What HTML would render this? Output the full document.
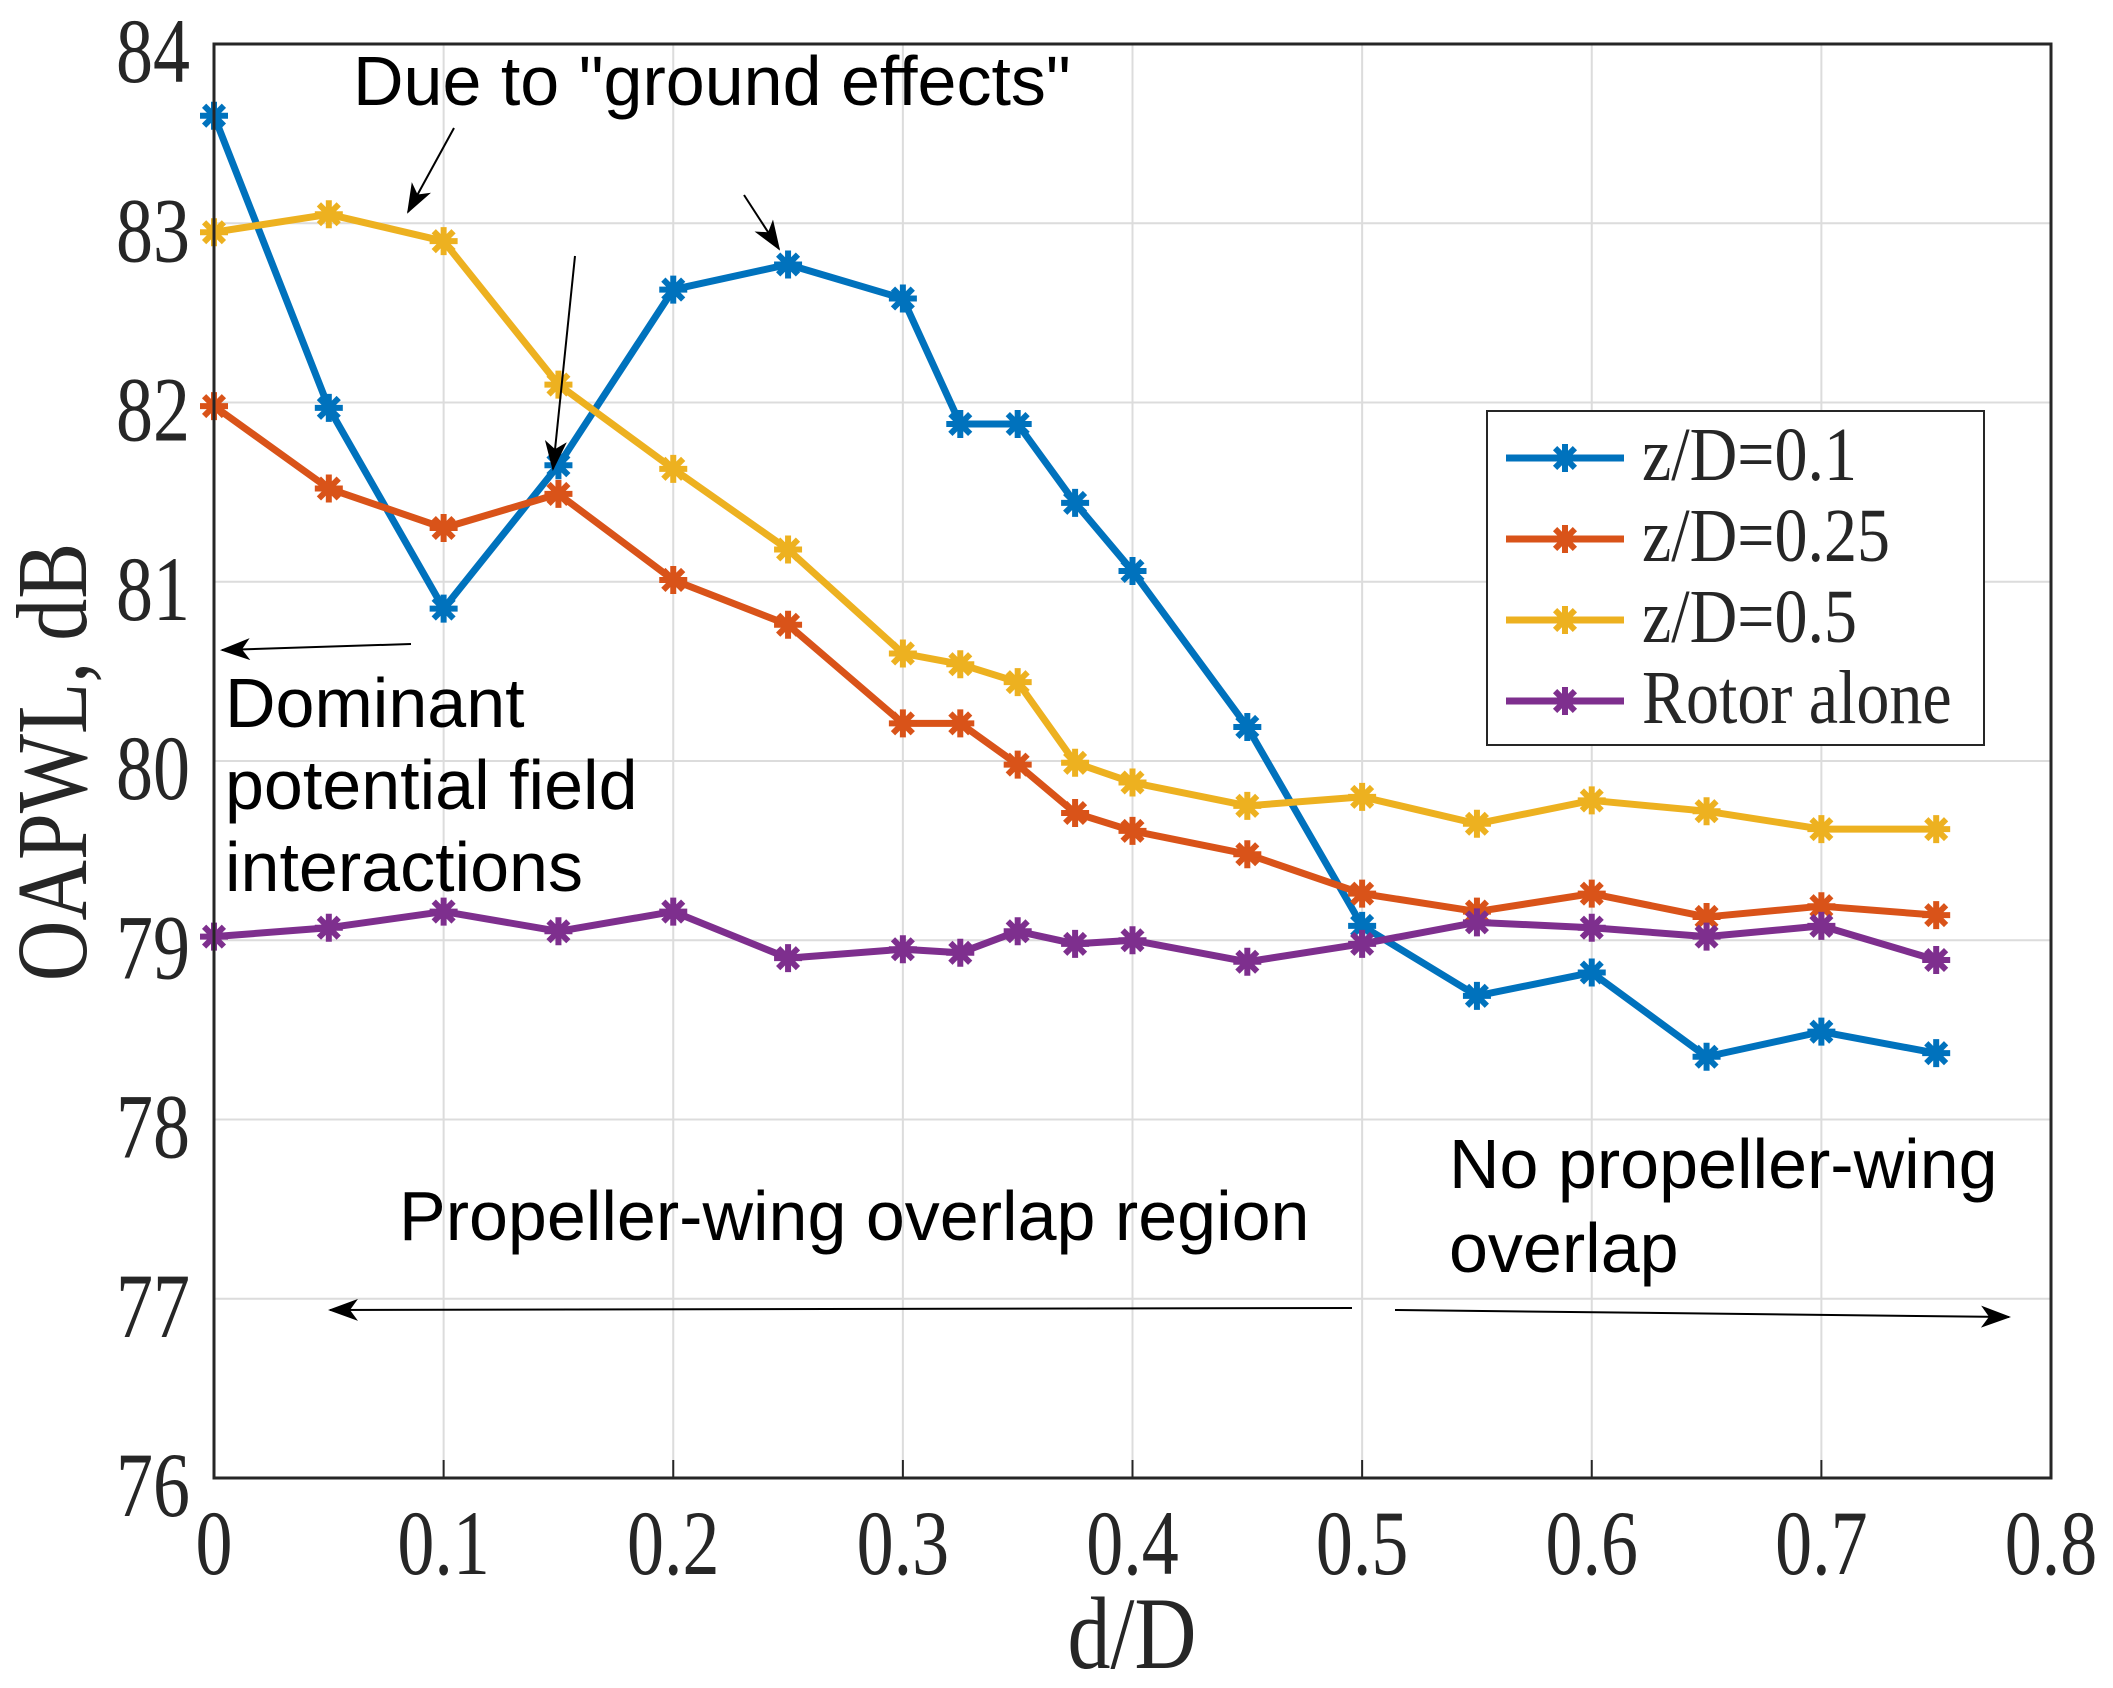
<!DOCTYPE html>
<html><head><meta charset="utf-8"><style>
body{margin:0;background:#fff}
svg{display:block}
.t{font-family:"Liberation Serif",serif;fill:#262626}
.a{font-family:"Liberation Sans",sans-serif;fill:#000;font-size:70px}
</style></head><body>
<svg id="chart" width="2113" height="1688" viewBox="0 0 2113 1688" xmlns="http://www.w3.org/2000/svg">
<defs><marker id="ah2" markerWidth="30" markerHeight="22" refX="28" refY="11" orient="auto" markerUnits="userSpaceOnUse" viewBox="0 0 30 22"><path d="M0,0 L30,11 L0,22 L8,11 z" fill="#000"/></marker></defs>
<g id="grid"></g>
<g id="series"></g>
<g id="axes"></g>
<text class="t" transform="translate(1132,1668) scale(1,1.2)" font-size="86" text-anchor="middle">d/D</text>
<text class="t" transform="translate(86,762) rotate(-90) scale(1,1.2)" font-size="84" text-anchor="middle">OAPWL, dB</text>
<g>
<text class="a" x="353" y="105">Due to "ground effects"</text>
<text class="a" x="225" y="727">Dominant</text>
<text class="a" x="225" y="809">potential field</text>
<text class="a" x="225" y="891">interactions</text>
<text class="a" x="399" y="1240">Propeller-wing overlap region</text>
<text class="a" x="1449" y="1188">No propeller-wing</text>
<text class="a" x="1449" y="1272">overlap</text>
<line x1="454" y1="128" x2="408" y2="212" stroke="#000" stroke-width="2" marker-end="url(#ah2)"/>
<line x1="575" y1="256" x2="553" y2="469" stroke="#000" stroke-width="2" marker-end="url(#ah2)"/>
<line x1="744" y1="195" x2="779" y2="249" stroke="#000" stroke-width="2" marker-end="url(#ah2)"/>
<line x1="411" y1="644" x2="222" y2="650" stroke="#000" stroke-width="2" marker-end="url(#ah2)"/>
<line x1="1352" y1="1308" x2="330" y2="1310" stroke="#000" stroke-width="2" marker-end="url(#ah2)"/>
<line x1="1395" y1="1310" x2="2009" y2="1317" stroke="#000" stroke-width="2" marker-end="url(#ah2)"/>
</g>
<g id="legend"></g>
</svg>
<script>
const xs=[0,0.05,0.1,0.15,0.2,0.25,0.3,0.325,0.35,0.375,0.4,0.45,0.5,0.55,0.6,0.65,0.7,0.75];
const zd01=[83.6,81.97,80.85,81.65,82.63,82.77,82.58,81.88,81.88,81.44,81.06,80.19,79.08,78.69,78.82,78.35,78.49,78.37];
const zd025=[81.98,81.52,81.3,81.49,81.01,80.76,80.21,80.21,79.98,79.71,79.61,79.48,79.26,79.16,79.26,79.13,79.19,79.14];
const zd05=[82.95,83.05,82.9,82.1,81.63,81.18,80.6,80.54,80.44,79.99,79.88,79.75,79.8,79.65,79.78,79.72,79.62,79.62];
const rotor=[79.02,79.07,79.16,79.05,79.16,78.9,78.95,78.93,79.05,78.98,79.0,78.88,78.98,79.1,79.07,79.02,79.08,78.89];
const seriesNames=["z/D=0.1","z/D=0.25","z/D=0.5","Rotor alone"];
const xTicks=[0,0.1,0.2,0.3,0.4,0.5,0.6,0.7,0.8];
const xTickLabels=["0","0.1","0.2","0.3","0.4","0.5","0.6","0.7","0.8"];
const yTicks=[76,77,78,79,80,81,82,83,84];
const NS="http://www.w3.org/2000/svg";
const L=214,R=2051,T=44,B=1478;
const X=v=>L+(v-0)/0.8*(R-L);
const Y=v=>B-(v-76)/8*(B-T);
function mk(tag,attrs,parent,txt){const e=document.createElementNS(NS,tag);for(const k in attrs)e.setAttribute(k,attrs[k]);if(txt!==undefined)e.textContent=txt;parent.appendChild(e);return e;}
const grid=document.getElementById('grid'),axes=document.getElementById('axes'),ser=document.getElementById('series'),leg=document.getElementById('legend');
xTicks.forEach((v,i)=>{
 const g=mk('line',{x1:X(v),x2:X(v),y1:T,y2:B,stroke:'#dcdcdc','stroke-width':2},grid);
 
 
 const tk=mk('line',{x1:X(v),x2:X(v),y1:B,y2:B-18,stroke:'#262626','stroke-width':2},axes);
 
 
 const t=mk('text',{transform:`translate(${X(v)},1574) scale(1,1.25)`,'font-size':74,'text-anchor':'middle',class:'t'},axes,xTickLabels[i]);
 
 
});
yTicks.forEach(v=>{
 const g=mk('line',{x1:L,x2:R,y1:Y(v),y2:Y(v),stroke:'#dcdcdc','stroke-width':2},grid);
 
 
 const t=mk('text',{transform:`translate(190,${Y(v)+38}) scale(1,1.25)`,'font-size':74,'text-anchor':'end',class:'t'},axes,String(v));
 
 
});
const box=mk('rect',{x:L,y:T,width:R-L,height:B-T,fill:'none',stroke:'#262626','stroke-width':3},axes);


function star(cx,cy,col,p,s){
 const r=14;let d='';
 for(let k=0;k<4;k++){const a=k*Math.PI/4;d+=`M${cx-r*Math.cos(a)},${cy-r*Math.sin(a)}L${cx+r*Math.cos(a)},${cy+r*Math.sin(a)}`;}
 const e=mk('path',{d:d,stroke:col,'stroke-width':6,fill:'none'},p);
 
 
}
const data=[zd01,zd025,zd05,rotor];
const cols=['#0072BD','#D95319','#EDB120','#7E2F8E'];
const keys=['z-d-0-1','z-d-0-25','z-d-0-5','rotor-alone'];
data.forEach((ys,si)=>{
 const pts=ys.map((v,i)=>X(xs[i])+','+Y(v)).join(' ');
 const l=mk('polyline',{points:pts,fill:'none',stroke:cols[si],'stroke-width':7,'stroke-linejoin':'round'},ser);
 
 
 ys.forEach((v,i)=>star(X(xs[i]),Y(v),cols[si],ser,keys[si]));
});
const lb=mk('rect',{x:1487,y:411,width:497,height:334,fill:'#fff',stroke:'#262626','stroke-width':2},leg);


seriesNames.forEach((n,i)=>{
 const y=458+i*81;
 const l=mk('line',{x1:1506,x2:1624,y1:y,y2:y,stroke:cols[i],'stroke-width':7},leg);
 
 
 star(1565,y,cols[i],leg,'legend-'+keys[i]);
 const t=mk('text',{transform:`translate(1642,${y+22}) scale(1,1.15)`,'font-size':66,class:'t'},leg,n);
 
 
});
</script>
</body></html>
